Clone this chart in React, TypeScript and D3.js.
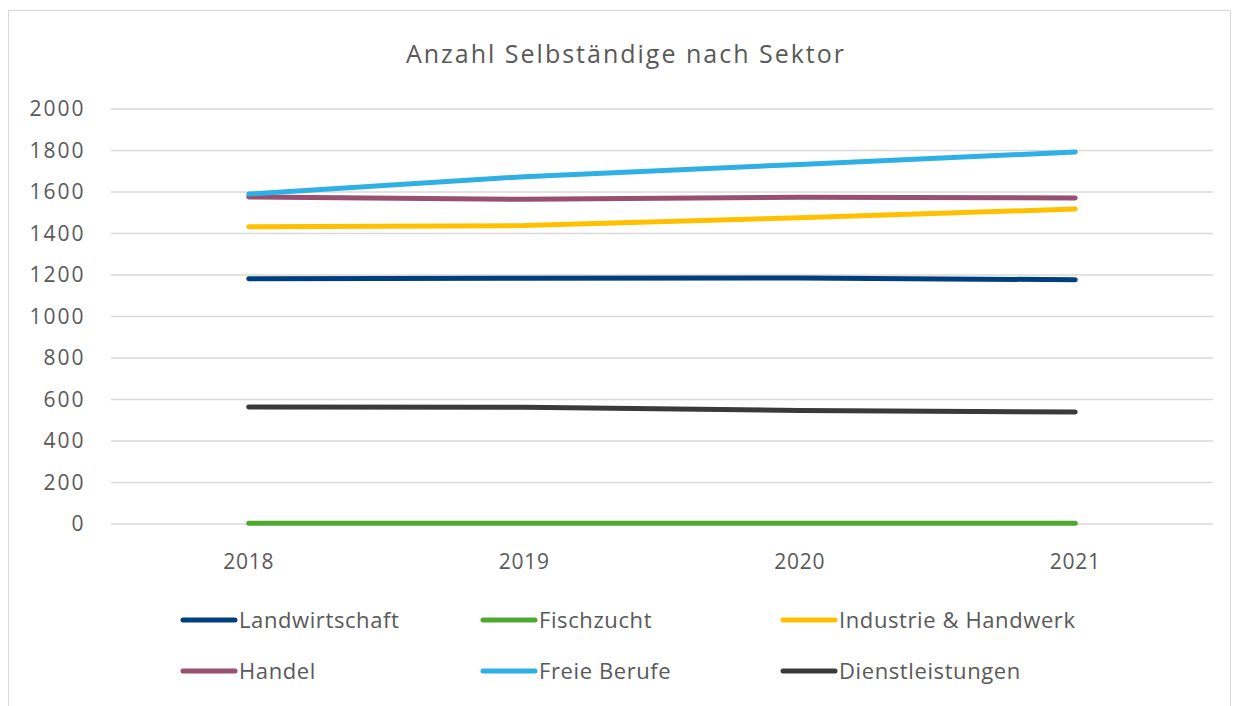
import React from "react";
import * as d3 from "d3";

const years = ["2018", "2019", "2020", "2021"];
const yTicks = [0, 200, 400, 600, 800, 1000, 1200, 1400, 1600, 1800, 2000];

const landwirtschaft = [1182, 1184, 1186, 1177];
const fischzucht = [4, 4, 4, 4];
const industrie = [1432, 1438, 1476, 1518];
const handel = [1576, 1565, 1575, 1571];
const freieBerufe = [1590, 1674, 1733, 1793];
const dienstleistungen = [564, 563, 547, 540];

const seriesNames = [
  "Landwirtschaft",
  "Fischzucht",
  "Industrie & Handwerk",
  "Handel",
  "Freie Berufe",
  "Dienstleistungen",
];
const seriesColors = ["#003f7d", "#4ea72e", "#ffc000", "#97506f", "#2eb0e4", "#3a3a3a"];
const seriesValues = [landwirtschaft, fischzucht, industrie, handel, freieBerufe, dienstleistungen];

const W = 1233;
const H = 706;
const FONT = "'Open Sans', 'DejaVu Sans', sans-serif";
const TEXT = "#595959";

export default function App() {
  const x = d3.scaleBand<string>().domain(years).range([111, 1213]);
  const y = d3.scaleLinear().domain([0, 2000]).range([524, 109]);
  const line = d3
    .line<number>()
    .x((_, i) => (x(years[i]) as number) + x.bandwidth() / 2)
    .y((v) => y(v));

  const legendCols = [181, 481, 781];
  const legendRows = [620, 671];

  return (
    <svg
      width={W}
      height={H}
      style={{ position: "absolute", left: 0, top: 0, background: "#fff" }}
      fontFamily={FONT}
    >
      <rect x={8.5} y={10.5} width={1222} height={720} fill="#fff" stroke="#d9d9d9" strokeWidth={1} />
      <text x={626} y={63} textAnchor="middle" fontSize={25} letterSpacing={2} fill={TEXT}>
        Anzahl Selbständige nach Sektor
      </text>
      {yTicks.map((t) => (
        <g key={t}>
          <line x1={111} x2={1213} y1={y(t)} y2={y(t)} stroke="#d9d9d9" strokeWidth={1.5} />
          <text x={85.5} y={y(t) + 7} textAnchor="end" fontSize={21} letterSpacing={2} fill={TEXT}>
            {t}
          </text>
        </g>
      ))}
      {years.map((yr) => (
        <text
          key={yr}
          x={(x(yr) as number) + x.bandwidth() / 2}
          y={569}
          textAnchor="middle"
          fontSize={21}
          letterSpacing={0.8}
          fill={TEXT}
        >
          {yr}
        </text>
      ))}
      {seriesValues.map((vals, i) => (
        <path
          key={seriesNames[i]}
          d={line(vals) || ""}
          fill="none"
          stroke={seriesColors[i]}
          strokeWidth={5}
          strokeLinecap="round"
          strokeLinejoin="round"
        />
      ))}
      {seriesNames.map((name, i) => {
        const cx = legendCols[i % 3];
        const cy = legendRows[Math.floor(i / 3)];
        return (
          <g key={name}>
            <line
              x1={cx + 2}
              x2={cx + 54}
              y1={cy}
              y2={cy}
              stroke={seriesColors[i]}
              strokeWidth={5}
              strokeLinecap="round"
            />
            <text x={cx + 58} y={cy + 8} fontSize={22} letterSpacing={0.6} fill={TEXT}>
              {name}
            </text>
          </g>
        );
      })}
    </svg>
  );
}
